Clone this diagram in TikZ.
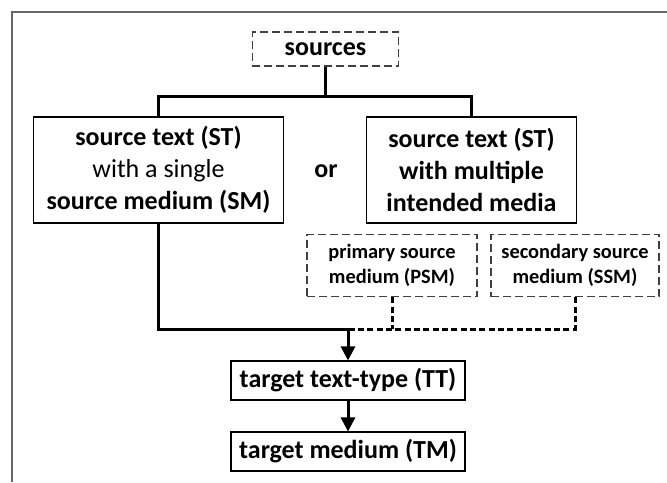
\documentclass[tikz,border=0pt]{standalone}
\usepackage{fontspec}
\setmainfont{Carlito}
\usetikzlibrary{arrows.meta}

\newcommand{\bigfs}{\fontsize{19.5}{23.8}\selectfont}
\newcommand{\smallfs}{\fontsize{15.3}{18.7}\selectfont}

\tikzset{every picture/.style={line width=0.75pt}}
\tikzset{
  solidbox/.style={draw=black, line width=0.8pt, align=center, inner sep=0pt, font=\bigfs},
  dashbox/.style={draw=black!75, line width=0.8pt, dash pattern=on 6pt off 3pt, align=center, inner sep=0pt},
  thickln/.style={line width=2.25pt},
  dashln/.style={line width=2.25pt, dash pattern=on 4.5pt off 2.5pt},
  arr/.style={-{Triangle[width=10.5pt,length=10.5pt]}}
}

\begin{document}
\begin{tikzpicture}[x=0.75pt,y=0.75pt,yscale=-1,xscale=1]
\useasboundingbox (0,0) rectangle (667,482);
%Frame
\draw [color=black!60, line width=1.1pt] (12,482) -- (12,12) -- (667,12) ;

%Top box
\node [dashbox, font=\bigfs\bfseries, minimum width=110pt, minimum height=25.5pt] (src) at (325.5,49) {sources};
%Source texts
\node [solidbox, minimum width=188pt, minimum height=79.5pt] (st1) at (158.5,170) {{\bfseries source text (ST)}\\with a single\\{\bfseries source medium (SM)}};
\node [solidbox, font=\bigfs\bfseries, minimum width=157pt, minimum height=79.5pt] (st2) at (471.5,170) {source text (ST)\\with multiple\\intended media};
\node [font=\bigfs\bfseries, inner sep=0pt] (or) at (326,171) {or};
%Intended media
\node [dashbox, font=\smallfs\bfseries, minimum width=127.5pt, minimum height=47pt] (psm) at (392,265.5) {primary source\\medium (PSM)};
\node [dashbox, font=\smallfs\bfseries, minimum width=126pt, minimum height=47pt] (ssm) at (575,265.5) {secondary source\\medium (SSM)};
%Targets
\node [solidbox, font=\bigfs\bfseries, minimum width=175.5pt, minimum height=29.25pt] (tt) at (348,380.5) {target text-type (TT)};
\node [solidbox, font=\bigfs\bfseries, minimum width=175.5pt, minimum height=29.25pt] (tm) at (348,451.5) {target medium (TM)};

\coordinate (bar) at (325.5,96) ;
\coordinate (jn) at (348,329) ;

%Connectors
\draw [thickln] (src.south) -- (bar) ;
\draw [thickln] (st1.north) |- (bar) -| (st2.north) ;
\draw [thickln, arr] (st1.south) |- (jn) -- (tt.north) ;
\draw [dashln] (psm.south) -- (psm.south |- jn) ;
\draw [dashln] (ssm.south) |- (jn) ;
\draw [thickln, arr] (tt.south) -- (tm.north) ;
\end{tikzpicture}
\end{document}
